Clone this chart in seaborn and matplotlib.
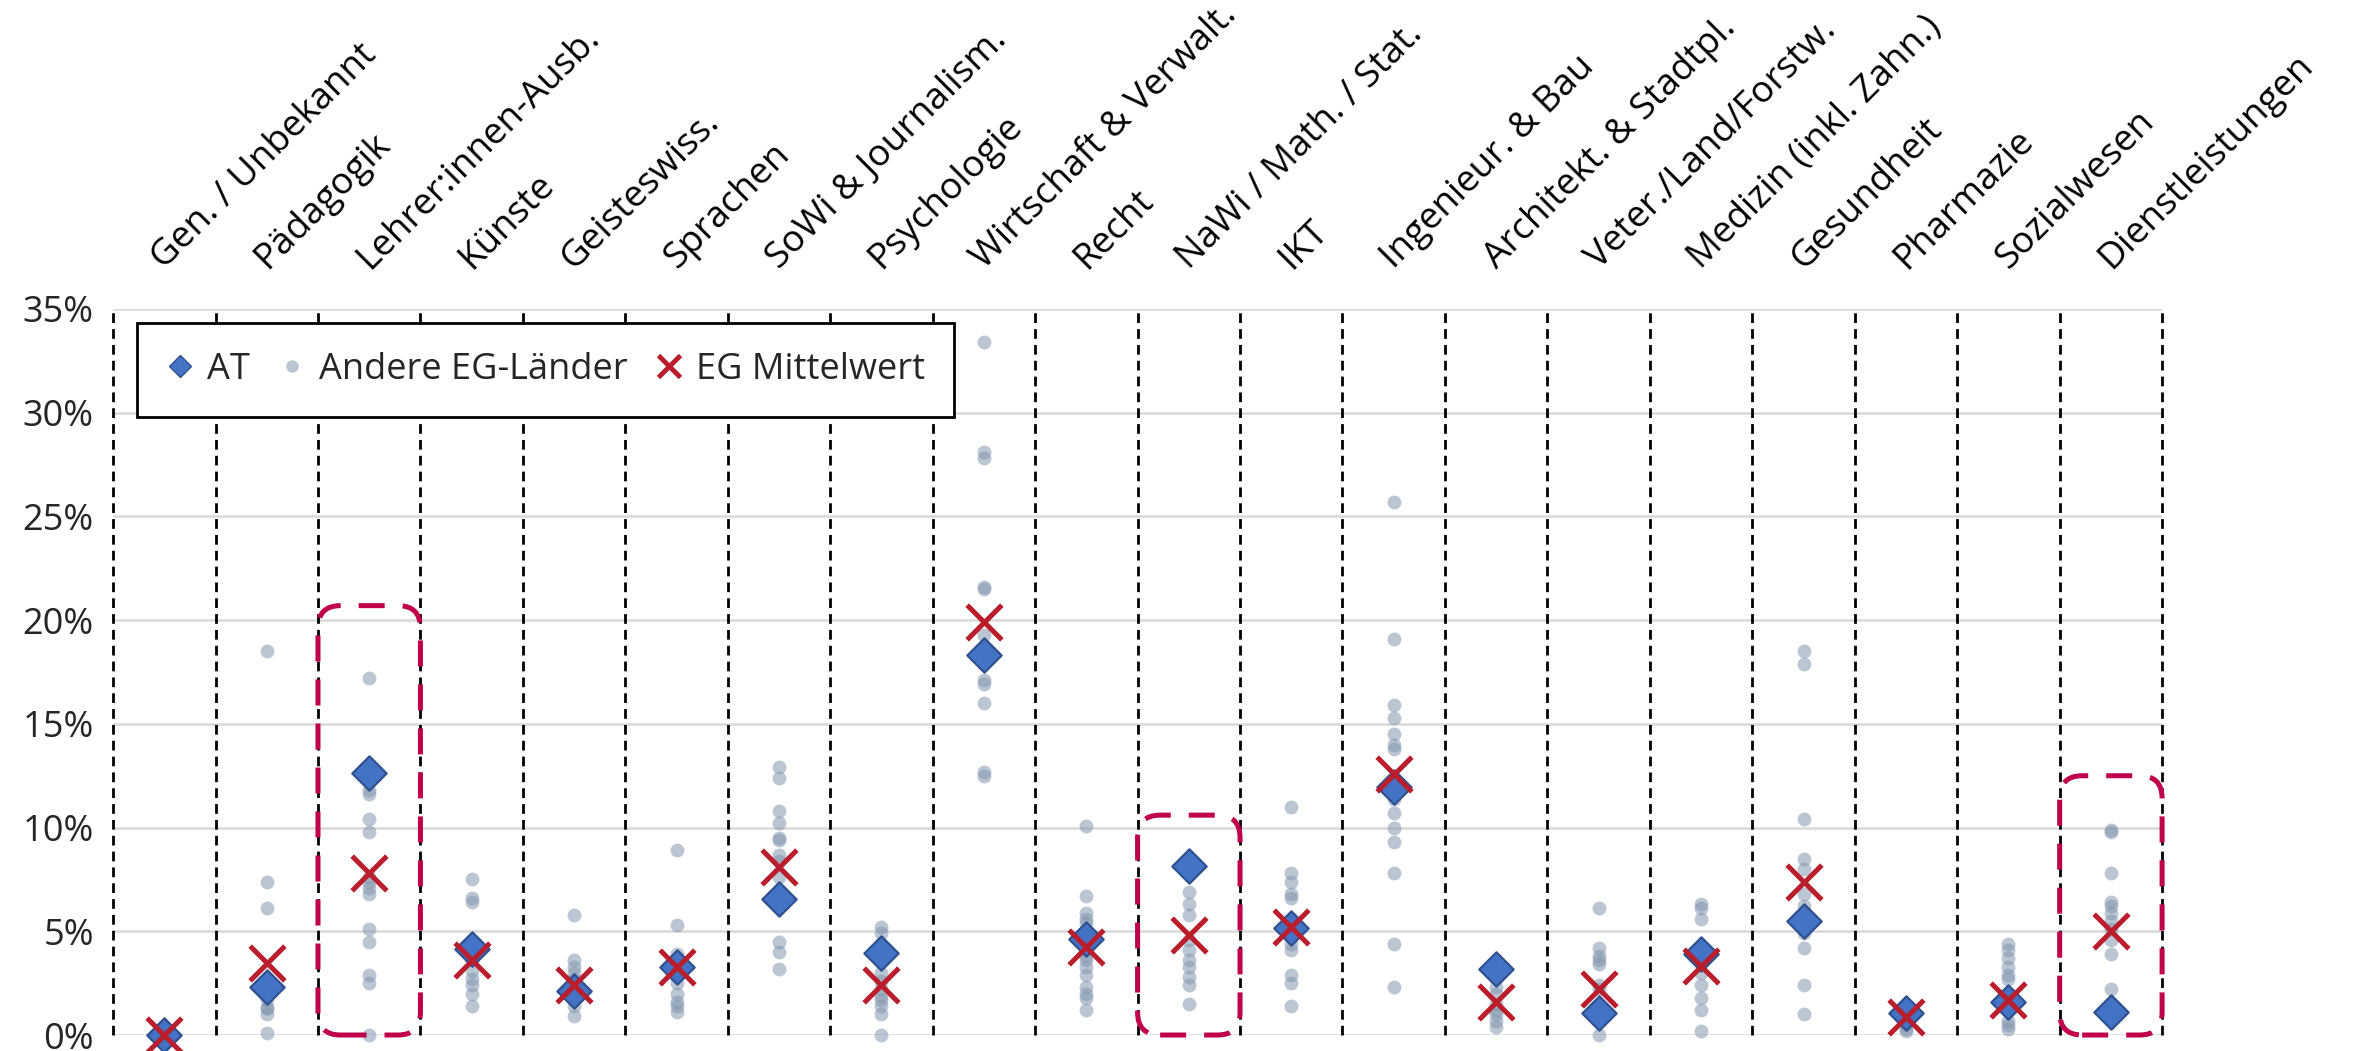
import numpy as np
import pandas as pd
import seaborn as sns
import matplotlib.pyplot as plt
from matplotlib.lines import Line2D
from matplotlib.patches import FancyBboxPatch
from matplotlib.ticker import FuncFormatter

categories = [
    "Gen. / Unbekannt", "Pädagogik", "Lehrer:innen-Ausb.", "Künste", "Geisteswiss.",
    "Sprachen", "SoWi & Journalism.", "Psychologie", "Wirtschaft & Verwalt.", "Recht",
    "NaWi / Math. / Stat.", "IKT", "Ingenieur. & Bau", "Architekt. & Stadtpl.",
    "Veter./Land/Forstw.", "Medizin (inkl. Zahn.)", "Gesundheit", "Pharmazie",
    "Sozialwesen", "Dienstleistungen",
]

# Anteil in %
at_values = [0.0, 2.3, 12.65, 4.15, 2.1, 3.3, 6.55, 3.95, 18.3, 4.65,
             8.15, 5.15, 11.95, 3.2, 1.05, 3.9, 5.5, 1.05, 1.6, 1.1]
eg_mean = [0.0, 3.45, 7.8, 3.6, 2.4, 3.3, 8.1, 2.4, 19.9, 4.25,
           4.8, 5.2, 12.6, 1.6, 2.2, 3.35, 7.4, 0.85, 1.7, 5.0]
other_countries = [
    [0.0, 0.0, 0.0],
    [18.5, 7.4, 6.1, 2.5, 2.0, 1.7, 1.3, 1.3, 1.0, 0.1],
    [17.2, 11.8, 11.6, 10.4, 9.8, 7.6, 7.4, 7.1, 6.8, 5.1, 4.5, 2.9, 2.5, 0.0],
    [7.5, 6.6, 6.4, 4.0, 3.6, 3.1, 2.7, 2.4, 2.0, 1.4],
    [5.8, 3.6, 3.3, 3.0, 2.7, 2.2, 1.8, 1.4, 0.9],
    [8.9, 5.3, 3.9, 3.6, 2.9, 2.5, 2.0, 1.6, 1.4, 1.1],
    [12.9, 12.4, 10.8, 10.2, 9.5, 9.4, 8.7, 8.4, 7.6, 4.5, 4.0, 3.2],
    [5.2, 4.9, 3.0, 2.6, 2.2, 1.9, 1.7, 1.4, 1.0, 0.0],
    [33.4, 28.1, 27.8, 21.6, 21.5, 19.3, 17.1, 16.9, 16.0, 12.7, 12.5],
    [10.1, 6.7, 5.9, 5.6, 5.4, 4.8, 3.8, 3.6, 3.3, 2.9, 2.3, 2.0, 1.8, 1.2],
    [6.9, 6.3, 5.8, 4.6, 4.1, 3.6, 3.3, 2.8, 2.4, 1.5],
    [11.0, 7.8, 7.4, 6.8, 6.6, 4.4, 4.1, 2.9, 2.5, 1.4],
    [25.7, 19.1, 15.9, 15.3, 14.5, 14.0, 13.8, 11.6, 11.4, 10.7, 10.0, 9.3, 7.8, 4.4, 2.3],
    [2.3, 2.0, 1.5, 1.2, 1.0, 0.7, 0.4],
    [6.1, 4.2, 3.8, 3.6, 3.4, 2.4, 2.2, 1.2, 0.0],
    [6.3, 6.1, 5.6, 4.2, 3.0, 2.4, 1.8, 1.2, 0.2],
    [18.5, 17.9, 10.4, 8.5, 8.0, 6.8, 6.2, 5.6, 4.9, 4.2, 2.4, 1.0],
    [1.2, 1.0, 0.9, 0.7, 0.5, 0.3, 0.2],
    [4.4, 4.1, 3.7, 3.3, 2.9, 2.7, 1.9, 1.3, 0.7, 0.5, 0.3],
    [9.9, 9.8, 7.8, 6.4, 6.2, 5.9, 5.5, 5.1, 4.6, 3.9, 2.2],
]
# markierte Fächer und Oberkante der Markierung (in %)
highlight = [("Lehrer:innen-Ausb.", 20.7), ("NaWi / Math. / Stat.", 10.6), ("Dienstleistungen", 12.5)]

AT_COLOR = "#4472C4"
AT_EDGE = "#2F528F"
OTHER_COLOR = "#8497B0"
MEAN_COLOR = "#BA1E2C"
MARK_COLOR = "#C0004A"

sns.set_theme(style="white")
plt.rcParams["font.family"] = ["Open Sans", "DejaVu Sans"]

fig = plt.figure(figsize=(23.56, 10.51), dpi=100)
ax = fig.add_axes([0.048, 0.0152, 0.8697, 0.6908])

others = pd.DataFrame(
    [(cat, v) for cat, vals in zip(categories, other_countries) for v in vals],
    columns=["Fach", "Anteil"],
)
at = pd.DataFrame({"Fach": categories, "Anteil": at_values})
mean = pd.DataFrame({"Fach": categories, "Anteil": eg_mean})

sns.stripplot(data=others, x="Fach", y="Anteil", order=categories, jitter=False,
              color=OTHER_COLOR, alpha=0.55, size=10, linewidth=0, zorder=3, ax=ax)
sns.stripplot(data=at, x="Fach", y="Anteil", order=categories, jitter=False, marker="D",
              color=AT_COLOR, edgecolor=AT_EDGE, size=17.5, linewidth=1.6, zorder=4, ax=ax)
sns.stripplot(data=mean, x="Fach", y="Anteil", order=categories, jitter=False, marker="x",
              color=MEAN_COLOR, edgecolor=MEAN_COLOR, size=25, linewidth=3.6, zorder=5, ax=ax)
for coll in ax.collections:
    coll.set_clip_on(False)

n = len(categories)
ax.set_xlim(-0.5, n - 0.5)
ax.set_ylim(0, 35)
ax.set_yticks(range(0, 36, 5))
ax.yaxis.set_major_formatter(FuncFormatter(lambda v, _: f"{v:.0f}%"))
ax.set_xlabel("")
ax.set_ylabel("")
for side in ["top", "right", "left", "bottom"]:
    ax.spines[side].set_visible(False)

ax.set_axisbelow(True)
ax.yaxis.grid(True, color="#D9D9D9", lw=1.8)
ax.xaxis.grid(False)
for b in np.arange(n + 1) - 0.5:
    ax.axvline(b, color="black", lw=2.0, ls=(0, (3.5, 2.2)), zorder=2, clip_on=False)

ax.xaxis.tick_top()
ax.set_xticks(range(n))
ax.set_xticklabels(categories, rotation=45, ha="left", va="baseline",
                   rotation_mode="anchor", fontsize=26.5, color="black")
ax.tick_params(axis="x", length=0, pad=28)
ax.tick_params(axis="y", length=0, pad=14, labelsize=26, labelcolor="#262626")

# rounded dashed boxes, corners kept circular in pixel space
p0 = ax.transData.transform((0, 0))
p1 = ax.transData.transform((1, 1))
aspect = (p1[0] - p0[0]) / (p1[1] - p0[1])
for cat, top in highlight:
    i = categories.index(cat)
    box = FancyBboxPatch((i - 0.5, 0), 1.0, top,
                         boxstyle="round,pad=0,rounding_size=0.22",
                         mutation_aspect=aspect, fill=False, edgecolor=MARK_COLOR,
                         lw=3.6, ls=(0, (5.2, 3.6)), clip_on=False, zorder=6)
    ax.add_patch(box)

handles = [
    Line2D([], [], marker="D", ls="none", markersize=11.5, markerfacecolor=AT_COLOR,
           markeredgecolor=AT_EDGE, label="AT"),
    Line2D([], [], marker="o", ls="none", markersize=9, markerfacecolor=OTHER_COLOR,
           markeredgewidth=0, alpha=0.55, label="Andere EG-Länder"),
    Line2D([], [], marker="x", ls="none", markersize=16, markeredgewidth=3.5,
           color=MEAN_COLOR, label="EG Mittelwert"),
]
leg = ax.legend(handles=handles, loc="upper left", bbox_to_anchor=(0.0117, 0.981), ncol=3,
                frameon=True, fancybox=False, edgecolor="black", framealpha=1, fontsize=26,
                handlelength=0.8, handletextpad=0.35, columnspacing=0.75, borderpad=0.8,
                borderaxespad=0)
leg.get_frame().set_linewidth(2)
leg.set_zorder(10)

fig.savefig("out.png", dpi=100)
